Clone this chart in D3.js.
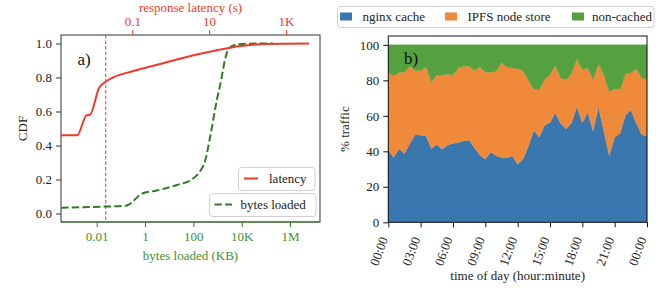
<!DOCTYPE html>
<html>
<head>
<meta charset="utf-8">
<script src="https://cdn.jsdelivr.net/npm/d3@7"></script>
<style>
  html, body { margin: 0; padding: 0; background: #fff; }
  svg { display: block; }
  text { font-family: "Liberation Serif", "Times New Roman", serif; }
</style>
</head>
<body>
<svg id="chart" width="672" height="290"></svg>
<script>
// ---------------- data: panel a) ----------------
const latencySeconds = [0.0014, 0.0037, 0.0065, 0.0079, 0.0138, 0.0204, 0.0316, 0.107, 0.79, 5.9, 35, 65, 320, 4000];
const latencyCdf     = [0.46, 0.46, 0.578, 0.58, 0.74, 0.775, 0.80, 0.838, 0.89, 0.94, 0.975, 0.985, 0.997, 1.0];

const bytesKB  = [0.00034, 0.0138, 0.148, 0.24, 0.72, 3.0, 21, 85, 186, 302, 490, 912, 1480, 2040, 3090, 6170, 41700, 195000];
const bytesCdf = [0.034, 0.04, 0.045, 0.057, 0.116, 0.135, 0.168, 0.2, 0.247, 0.306, 0.447, 0.659, 0.8, 0.906, 0.975, 0.994, 1.0, 1.0];

const latencyThreshold = 0.0204;           // vertical dashed marker (s)
const bytesTicks   = [0.01, 1, 100, 1e4, 1e6];
const bytesLabels  = ["0.01", "1", "100", "10K", "1M"];
const latTicks     = [0.1, 10, 1000];
const latLabels    = ["0.1", "10", "1K"];
const cdfTicks     = [0, 0.2, 0.4, 0.6, 0.8, 1.0];
const bytesDomain  = [3.33e-4, 1.74e7];
const latDomain    = [1.40e-3, 7670];

// ---------------- data: panel b) ----------------
const hours = d3.range(0, 24.01, 0.5);
const nginxCache = [40.6, 36.5, 41.5, 38.7, 44.4, 49.6, 49.0, 48.8, 41.6, 43.8, 41.2, 43.5, 44.4, 45.0, 46.0, 46.3, 42.0, 37.8, 35.5, 39.6, 37.5, 36.5, 36.3, 37.5, 32.7, 35.5, 43.0, 51.7, 48.0, 54.7, 56.3, 61.7, 55.5, 52.6, 56.0, 65.2, 56.0, 62.1, 51.4, 65.0, 51.2, 37.5, 48.1, 50.0, 60.3, 63.3, 56.0, 49.5, 48.4];
const ipfsNodeStore = [43.9, 46.0, 43.0, 45.8, 43.6, 35.9, 36.5, 38.7, 37.4, 39.2, 41.8, 40.0, 38.6, 42.0, 42.0, 41.7, 43.5, 49.7, 49.0, 44.9, 47.5, 53.5, 51.2, 49.5, 53.8, 50.1, 37.0, 23.3, 26.5, 25.8, 26.7, 26.7, 25.8, 27.8, 27.7, 26.8, 30.0, 24.9, 29.0, 24.3, 31.8, 36.1, 27.2, 25.0, 23.4, 20.7, 30.5, 32.0, 32.0];
const nonCached = [15.5, 17.5, 15.5, 15.5, 12.0, 14.5, 14.5, 12.5, 21.0, 17.0, 17.0, 16.5, 17.0, 13.0, 12.0, 12.0, 14.5, 12.5, 15.5, 15.5, 15.0, 10.0, 12.5, 13.0, 13.5, 14.4, 20.0, 25.0, 25.5, 19.5, 17.0, 11.6, 18.7, 19.6, 16.3, 8.0, 14.0, 13.0, 19.6, 10.7, 17.0, 26.4, 24.7, 25.0, 16.3, 16.0, 13.5, 18.5, 19.6];
const seriesNames = ["nginx cache", "IPFS node store", "non-cached"];
const seriesColors = ["#3b77af", "#ef8a3b", "#56a13f"];
const timeTicks = [0, 3, 6, 9, 12, 15, 18, 21, 24];
const timeLabels = ["00:00", "03:00", "06:00", "09:00", "12:00", "15:00", "18:00", "21:00", "00:00"];
const pctTicks = [0, 20, 40, 60, 80, 100];

// ---------------- styles ----------------
const RED = "#ee3a2a", GREEN = "#2f7d20", GREEN_TXT = "#3f9030", FS = 13;
const svg = d3.select("#chart");

// ================= panel a =================
const A = {l: 61, r: 320, t: 35, b: 222};
const xb = d3.scaleLog().domain(bytesDomain).range([A.l, A.r]);
const xl = d3.scaleLog().domain(latDomain).range([A.l, A.r]);
const ya = d3.scaleLinear().domain([-0.05, 1.05]).range([A.b, A.t]);

const ga = svg.append("g");
// frame
ga.append("rect").attr("x", A.l).attr("y", A.t).attr("width", A.r - A.l).attr("height", A.b - A.t)
  .attr("fill", "none").attr("stroke", "#333").attr("stroke-width", 1);
ga.append("line").attr("x1", A.l).attr("x2", A.r).attr("y1", A.b).attr("y2", A.b)
  .attr("stroke", GREEN).attr("stroke-width", 1.2);

// y axis
const yAxA = ga.append("g").attr("transform", `translate(${A.l},0)`)
  .call(d3.axisLeft(ya).tickValues(cdfTicks).tickFormat(d3.format(".1f")).tickSize(5).tickPadding(4));
yAxA.select(".domain").remove();
yAxA.selectAll("line").attr("stroke", "#333");
yAxA.selectAll("text").attr("font-size", FS).attr("fill", "#222").attr("font-family", "Liberation Serif");

// bottom axis (bytes)
const xAxB = ga.append("g").attr("transform", `translate(0,${A.b})`)
  .call(d3.axisBottom(xb).tickValues(bytesTicks).tickFormat((d, i) => bytesLabels[i]).tickSize(5).tickPadding(5));
xAxB.select(".domain").remove();
xAxB.selectAll("line").attr("stroke", GREEN);
xAxB.selectAll("text").attr("font-size", FS).attr("fill", GREEN_TXT).attr("font-family", "Liberation Serif");

// top axis (latency)
const xAxL = ga.append("g").attr("transform", `translate(0,${A.t})`)
  .call(d3.axisTop(xl).tickValues(latTicks).tickFormat((d, i) => latLabels[i]).tickSize(5).tickPadding(4));
xAxL.select(".domain").remove();
xAxL.selectAll("line").attr("stroke", RED);
xAxL.selectAll("text").attr("font-size", FS).attr("fill", RED).attr("font-family", "Liberation Serif");

// labels
ga.append("text").attr("x", (A.l + A.r) / 2).attr("y", 259.5).attr("text-anchor", "middle")
  .attr("font-size", FS).attr("fill", GREEN_TXT).text("bytes loaded (KB)");
ga.append("text").attr("x", (A.l + A.r) / 2).attr("y", 12).attr("text-anchor", "middle")
  .attr("font-size", FS).attr("fill", RED).text("response latency (s)");
ga.append("text").attr("transform", `translate(26.5,${(A.t + A.b) / 2}) rotate(-90)`).attr("text-anchor", "middle")
  .attr("font-size", FS).attr("fill", "#222").text("CDF");
ga.append("text").attr("x", 77.5).attr("y", 64.5).attr("font-size", 17).attr("fill", "#111").text("a)");

// threshold line
ga.append("line").attr("x1", xl(latencyThreshold)).attr("x2", xl(latencyThreshold))
  .attr("y1", A.t).attr("y2", A.b).attr("stroke", RED).attr("stroke-width", 1).attr("stroke-dasharray", "3.5,2");

// curves
const clipA = svg.append("clipPath").attr("id", "clipA");
clipA.append("rect").attr("x", A.l).attr("y", A.t).attr("width", A.r - A.l).attr("height", A.b - A.t);

const bytesLine = d3.line().x((d, i) => xb(bytesKB[i])).y((d, i) => ya(bytesCdf[i])).curve(d3.curveMonotoneX);
const latLine = d3.line().x((d, i) => xl(latencySeconds[i])).y((d, i) => ya(latencyCdf[i])).curve(d3.curveMonotoneX);

ga.append("path").attr("clip-path", "url(#clipA)").attr("d", bytesLine(bytesKB))
  .attr("fill", "none").attr("stroke", GREEN).attr("stroke-width", 2).attr("stroke-dasharray", "7.4,3.2");
ga.append("path").attr("clip-path", "url(#clipA)").attr("d", latLine(latencySeconds))
  .attr("fill", "none").attr("stroke", RED).attr("stroke-width", 2);

// legends (two separate boxes)
function legendBox(g, x, y, w, h) {
  g.append("rect").attr("x", x).attr("y", y).attr("width", w).attr("height", h).attr("rx", 3)
    .attr("fill", "#fff").attr("fill-opacity", 0.85).attr("stroke", "#d0d0d0").attr("stroke-width", 1);
}
legendBox(ga, 238.5, 167.5, 76.5, 23);
ga.append("line").attr("x1", 244).attr("x2", 258).attr("y1", 178.5).attr("y2", 178.5).attr("stroke", RED).attr("stroke-width", 2);
ga.append("text").attr("x", 269).attr("y", 182.5).attr("font-size", FS).attr("fill", "#222").text("latency");
legendBox(ga, 209.5, 193.5, 106.5, 23);
ga.append("line").attr("x1", 214.5).attr("x2", 232).attr("y1", 204.5).attr("y2", 204.5).attr("stroke", GREEN)
  .attr("stroke-width", 2).attr("stroke-dasharray", "7.4,3.2");
ga.append("text").attr("x", 240.5).attr("y", 208.5).attr("font-size", FS).attr("fill", "#222").text("bytes loaded");

// ================= panel b =================
const B = {l: 388.3, r: 647, t: 36, b: 222.3};
const xt = d3.scaleLinear().domain([0, 24]).range([B.l, B.r]);
const yb = d3.scaleLinear().domain([0, 105]).range([B.b, B.t]);

const rows = hours.map((h, i) => ({h, s0: nginxCache[i], s1: ipfsNodeStore[i], s2: nonCached[i]}));
const stack = d3.stack().keys(["s0", "s1", "s2"])(rows);
const area = d3.area().x(d => xt(d.data.h)).y0(d => yb(d[0])).y1(d => yb(d[1]));

const gb = svg.append("g");
gb.selectAll("path.layer").data(stack).join("path").attr("class", "layer")
  .attr("d", area).attr("fill", (d, i) => seriesColors[i]).attr("stroke", (d, i) => seriesColors[i]).attr("stroke-width", 0.3);

gb.append("rect").attr("x", B.l).attr("y", B.t).attr("width", B.r - B.l).attr("height", B.b - B.t)
  .attr("fill", "none").attr("stroke", "#111").attr("stroke-width", 1);

const yAxB = gb.append("g").attr("transform", `translate(${B.l},0)`)
  .call(d3.axisLeft(yb).tickValues(pctTicks).tickSize(5).tickPadding(4));
yAxB.select(".domain").remove();
yAxB.selectAll("line").attr("stroke", "#111");
yAxB.selectAll("text").attr("font-size", FS).attr("fill", "#222").attr("font-family", "Liberation Serif");

const xAxT = gb.append("g").attr("transform", `translate(0,${B.b})`)
  .call(d3.axisBottom(xt).tickValues(timeTicks).tickFormat((d, i) => timeLabels[i]).tickSize(5));
xAxT.select(".domain").remove();
xAxT.selectAll("line").attr("stroke", "#111");
xAxT.selectAll("text").attr("font-size", FS).attr("fill", "#222").attr("font-family", "Liberation Serif")
  .attr("text-anchor", "end").attr("dy", "0.35em")
  .attr("transform", "translate(-5,15) rotate(-70)").attr("y", 0).attr("x", 0);

gb.append("text").attr("x", (B.l + B.r) / 2).attr("y", 280).attr("text-anchor", "middle")
  .attr("font-size", FS).attr("fill", "#222").text("time of day (hour:minute)");
gb.append("text").attr("transform", `translate(349,${(B.t + B.b) / 2}) rotate(-90)`).attr("text-anchor", "middle")
  .attr("font-size", FS).attr("fill", "#222").text("% traffic");
gb.append("text").attr("x", 404).attr("y", 64).attr("font-size", 17).attr("fill", "#111").text("b)");

// legend top
legendBox(gb, 337.5, 6.5, 316.5, 21);
const legX = [340, 445, 572];
const legTX = [362.5, 467.5, 592];
seriesNames.forEach((n, i) => {
  gb.append("rect").attr("x", legX[i]).attr("y", 12.5).attr("width", 12).attr("height", 8).attr("fill", seriesColors[i]);
  gb.append("text").attr("x", legTX[i]).attr("y", 21).attr("font-size", FS).attr("fill", "#222").text(n);
});
</script>
</body>
</html>
